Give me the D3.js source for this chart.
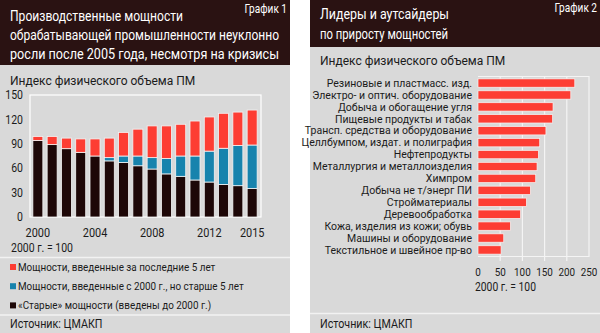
<!DOCTYPE html>
<html>
<head>
<meta charset="utf-8">
<script src="https://cdn.jsdelivr.net/npm/d3@7"></script>
<style>
  html, body { margin: 0; padding: 0; background: #fff; }
  svg text { font-family: Roboto, 'Noto Sans', sans-serif; transform-box: fill-box; }
</style>
</head>
<body>
<svg id="chart" width="600" height="333"></svg>
<script>
// Chart 1: capacity index by age group, 2000 = 100
const years = [2000, 2001, 2002, 2003, 2004, 2005, 2006, 2007, 2008, 2009, 2010, 2011, 2012, 2013, 2014, 2015];
const oldCap = [94, 89, 84, 79.5, 75, 69, 67, 63, 59, 53, 50, 45.5, 43, 40, 38.5, 35];
const midCap = [0, 0, 0, 0, 0, 4, 8, 12, 14, 19, 25, 29.5, 38, 44.5, 49.5, 53.5];
const newCap = [5, 10, 13, 16.5, 21, 24, 29, 33, 39, 40, 39, 43, 42, 43, 41, 43];
const yearTicks = [2000, 2004, 2008, 2012, 2015];
const indexTicks = [0, 30, 60, 90, 120, 150];
const seriesNames = [
  'Мощности, введенные за последние 5 лет',
  'Мощности, введенные с 2000 г., но старше 5 лет',
  '«Старые» мощности (введены до 2000 г.)'
];

// Chart 2: capacity growth by industry
const industries = [
  'Резиновые и пластмасс. изд.',
  'Электро- и оптич. оборудование',
  'Добыча и обогащение угля',
  'Пищевые продукты и табак',
  'Трансп. средства и оборудование',
  'Целлбумпом, издат. и полиграфия',
  'Нефтепродукты',
  'Металлургия и металлоизделия',
  'Химпром',
  'Добыча не т/энерг ПИ',
  'Стройматериалы',
  'Деревообработка',
  'Кожа, изделия из кожи; обувь',
  'Машины и оборудование',
  'Текстильное и швейное пр-во'
];
const growth = [218, 209, 169, 168, 153, 139, 136, 133, 130, 118, 109, 96, 73, 58, 52];
const growthTicks = [0, 50, 100, 150, 200, 250];

const RED = '#fd3d33', BLUE = '#1783ad', DARK = '#1d0707';
const HEAD = '#2a1212', PANEL = '#d9d9d9', INK = '#1b1b1b';

const svg = d3.select('#chart');

// text helper; sx narrows the glyphs around the anchor point
function txt(g, x, y, s, size, anchor, sx, color) {
  const origin = anchor === 'end' ? 'right' : anchor === 'middle' ? 'center' : 'left';
  return g.append('text')
    .attr('x', x).attr('y', y)
    .attr('font-size', size)
    .attr('fill', color || INK)
    .attr('text-anchor', anchor)
    .style('transform', `scaleX(${sx})`)
    .style('transform-origin', `${origin} center`)
    .text(s);
}

// headline text squeezed into a fixed width
function headline(g, x, y, s, width, size) {
  return g.append('text')
    .attr('x', x).attr('y', y)
    .attr('font-size', size || 15.5)
    .attr('fill', '#fff')
    .attr('textLength', width)
    .attr('lengthAdjust', 'spacingAndGlyphs')
    .text(s);
}

// ---------- left panel ----------
const left = svg.append('g');
left.append('rect').attr('x', 0).attr('y', 0).attr('width', 290).attr('height', 333).attr('fill', PANEL);
left.append('rect').attr('x', 0).attr('y', 0).attr('width', 290).attr('height', 65).attr('fill', HEAD);
txt(left, 287, 13, 'График 1', 12, 'end', 0.84, '#fff');
headline(left, 10, 21, 'Производственные мощности', 173);
headline(left, 10, 39.8, 'обрабатывающей промышленности неуклонно', 269);
headline(left, 10, 58.6, 'росли после 2005 года, несмотря на кризисы', 269);
txt(left, 10, 85, 'Индекс физического объема ПМ', 12, 'start', 1);

const x1 = d3.scaleBand().domain(years).range([30, 260]).paddingInner(0.3).paddingOuter(0.2);
const y1 = d3.scaleLinear().domain([0, 150]).range([217, 95]);

left.append('rect')
  .attr('x', 30).attr('y', y1(150))
  .attr('width', 231).attr('height', y1(0) - y1(150))
  .attr('fill', 'none').attr('stroke', '#fff').attr('stroke-width', 1.2);

const stacked = d3.stack().keys(['old', 'mid', 'new'])(
  years.map((yr, i) => ({ year: yr, old: oldCap[i], mid: midCap[i], new: newCap[i] }))
);
const colors = { old: DARK, mid: BLUE, new: RED };

left.append('g').selectAll('g')
  .data(stacked)
  .join('g')
  .attr('fill', d => colors[d.key])
  .selectAll('rect')
  .data(d => d.filter(p => p[1] > p[0]))
  .join('rect')
  .attr('x', d => x1(d.data.year))
  .attr('width', x1.bandwidth())
  .attr('y', d => y1(d[1]))
  .attr('height', d => y1(d[0]) - y1(d[1]))
  .attr('stroke', '#f4f4f4')
  .attr('stroke-width', 0.8);

indexTicks.forEach(v => txt(left, 23, y1(v) + 4.3, v, 12.5, 'end', 0.84));
yearTicks.forEach(v => txt(left, x1(v) + x1.bandwidth() / 2, 237, v, 13, 'middle', 0.84));
txt(left, 11, 252.5, '2000 г. = 100', 12.5, 'start', 0.84);

left.append('line').attr('x1', 0).attr('x2', 290).attr('y1', 257.5).attr('y2', 257.5)
  .attr('stroke', '#f2f2f2').attr('stroke-width', 1.5);
const legendColors = [RED, BLUE, DARK];
seriesNames.forEach((s, i) => {
  const by = 271 + i * 19.2;
  left.append('rect').attr('x', 10).attr('y', by - 7).attr('width', 6).attr('height', 6).attr('fill', legendColors[i]);
  txt(left, 18, by, s, 11.5, 'start', 0.86);
});
left.append('line').attr('x1', 0).attr('x2', 290).attr('y1', 315).attr('y2', 315)
  .attr('stroke', '#f2f2f2').attr('stroke-width', 1.5);
txt(left, 10, 328, 'Источник: ЦМАКП', 12.5, 'start', 0.86);

// ---------- right panel ----------
const right = svg.append('g');
right.append('rect').attr('x', 310).attr('y', 0).attr('width', 290).attr('height', 333).attr('fill', PANEL);
right.append('rect').attr('x', 310).attr('y', 0).attr('width', 290).attr('height', 47).attr('fill', HEAD);
txt(right, 597, 12, 'График 2', 12, 'end', 0.84, '#fff');
headline(right, 320, 19, 'Лидеры и аутсайдеры', 129, 15);
headline(right, 320, 39, 'по приросту мощностей', 128, 15);
txt(right, 320, 65, 'Индекс физического объема ПМ', 12, 'start', 1);

const x2 = d3.scaleLinear().domain([0, 250]).range([478, 589]);
const y2 = d3.scaleBand().domain(industries).range([76.5, 256.5]).paddingInner(0.3).paddingOuter(0.2);

// grid lines with short ticks below the frame
right.append('g').selectAll('line')
  .data(growthTicks.slice(1, 5))
  .join('line')
  .attr('x1', d => x2(d)).attr('x2', d => x2(d))
  .attr('y1', 76.5).attr('y2', 261)
  .attr('stroke', '#f4f4f4').attr('stroke-width', 1.2);
right.append('path')
  .attr('d', `M${x2(0)},76.5H${x2(250)}V256.5H${x2(0)}`)
  .attr('fill', 'none').attr('stroke', '#f4f4f4').attr('stroke-width', 1.2);

right.append('g').selectAll('rect')
  .data(industries)
  .join('rect')
  .attr('x', x2(0))
  .attr('y', d => y2(d))
  .attr('height', y2.bandwidth())
  .attr('width', (d, i) => x2(growth[i]) - x2(0))
  .attr('fill', RED)
  .attr('stroke', '#f6f6f6').attr('stroke-width', 0.7);

industries.forEach(s => txt(right, 472, y2(s) + y2.bandwidth() / 2 + 3.7, s, 10.5, 'end', 1));
growthTicks.forEach(v => txt(right, x2(v), 276.5, v, 11.5, 'middle', 0.86));
txt(right, 475, 291, '2000 г. = 100', 12, 'start', 0.86);

right.append('line').attr('x1', 310).attr('x2', 600).attr('y1', 313.5).attr('y2', 313.5)
  .attr('stroke', '#f2f2f2').attr('stroke-width', 1.5);
txt(right, 320, 328, 'Источник: ЦМАКП', 12.5, 'start', 0.86);
</script>
</body>
</html>
